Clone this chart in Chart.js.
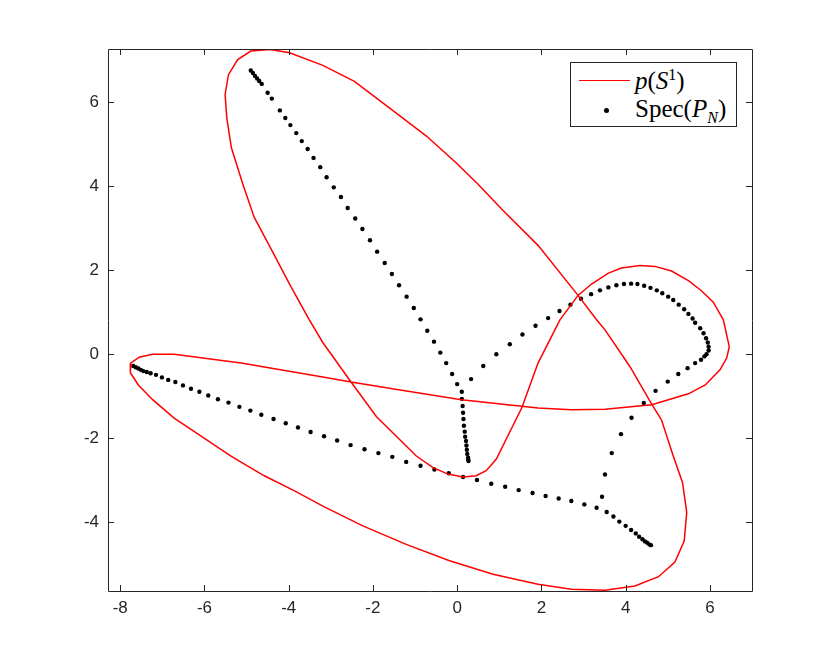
<!DOCTYPE html>
<html>
<head>
<meta charset="utf-8">
<script src="https://cdn.jsdelivr.net/npm/chart.js@4.4.0/dist/chart.umd.min.js"></script>
<style>
    body { margin: 0; background: #fff; }
    #wrap { position: relative; width: 830px; height: 664px; }
    #legend {
        position: absolute; left: 570px; top: 62px; width: 165px; height: 63px;
        border: 1px solid #262626; background: #fff;
        font-family: 'Liberation Serif', 'DejaVu Serif', serif; font-size: 25px; color: #000;
    }
    #legend .txt { position: absolute; left: 64px; white-space: nowrap; line-height: 1; }
    #legend sup, #legend sub { font-size: 16px; line-height: 0; }
    #legend sub { vertical-align: -6px; }
    #legend .line { position: absolute; left: 8px; top: 17px; width: 51px; height: 0; border-top: 1.5px solid #ff0000; }
    #legend .dot { position: absolute; left: 33px; top: 45px; width: 5px; height: 5px; border-radius: 50%; background: #000; }
</style>
</head>
<body>
<div id="wrap">
    <canvas id="specChart" width="830" height="664"></canvas>
    <div id="legend">
        <div class="line"></div>
        <div class="txt" style="top:5px"><i>p</i>(<i>S</i><sup>1</sup>)</div>
        <div class="dot"></div>
        <div class="txt" style="top:33px">Spec(<i>P</i><sub><i>N</i></sub>)</div>
    </div>
</div>
<script>
// symbol curve p(S^1)
const curveX = [-4.44,-4.90,-5.21,-5.43,-5.51,-5.47,-5.36,-5.09,-4.82,-4.40,-3.98,-3.51,-3.19,-2.52,-1.92,-0.97,-0.58,-0.22,0.14,0.45,0.69,0.93,1.54,1.92,2.44,2.87,3.19,3.59,3.90,4.34,4.70,5.09,5.49,5.80,6.08,6.32,6.46,6.40,6.24,5.89,5.49,4.62,3.51,2.71,1.92,0.10,-1.61,-2.52,-3.19,-5.13,-6.72,-7.23,-7.55,-7.75,-7.76,-7.57,-7.23,-6.72,-6.00,-5.37,-4.58,-3.86,-3.19,-2.24,-1.21,-0.18,0.85,1.92,2.71,3.51,4.22,4.78,5.17,5.39,5.45,5.35,5.13,4.85,4.58,4.10,3.51,3.31,2.87,1.92,1.09,0.49,-0.02,-0.73,-1.61,-2.44,-3.19,-3.98,-4.44];
const curveY = [7.25,7.21,7.01,6.65,6.18,5.62,4.91,4.05,3.26,2.47,1.67,0.82,0.28,-0.66,-1.48,-2.42,-2.69,-2.85,-2.92,-2.89,-2.77,-2.49,-1.26,-0.21,0.82,1.40,1.67,1.93,2.05,2.11,2.09,1.98,1.75,1.51,1.24,0.82,0.18,-0.09,-0.37,-0.73,-0.94,-1.20,-1.31,-1.32,-1.28,-1.08,-0.81,-0.66,-0.54,-0.21,0.00,0.00,-0.07,-0.21,-0.44,-0.73,-1.08,-1.52,-2.00,-2.42,-2.89,-3.25,-3.61,-4.08,-4.52,-4.91,-5.23,-5.47,-5.59,-5.61,-5.51,-5.29,-4.94,-4.44,-3.76,-3.05,-2.42,-1.56,-1.12,-0.29,0.58,0.82,1.40,2.59,3.42,4.05,4.55,5.19,5.86,6.49,6.87,7.17,7.25];

// eigenvalues, arm from top-left down to the short spike
const armAX = [-4.90,-4.85,-4.80,-4.75,-4.70,-4.64,-4.50,-4.40,-4.21,-4.08,-3.96,-3.82,-3.69,-3.55,-3.41,-3.25,-3.10,-2.93,-2.76,-2.60,-2.42,-2.25,-2.07,-1.90,-1.72,-1.55,-1.38,-1.20,-1.03,-0.87,-0.71,-0.55,-0.40,-0.26,-0.12,0.00,0.11,0.11,0.13,0.14,0.15,0.16,0.18,0.19,0.21,0.22,0.23,0.24,0.26,0.26,0.27];
const armAY = [6.75,6.69,6.62,6.56,6.50,6.43,6.22,6.08,5.80,5.62,5.45,5.26,5.07,4.88,4.67,4.45,4.21,3.97,3.74,3.48,3.23,2.98,2.71,2.44,2.17,1.91,1.64,1.37,1.10,0.83,0.56,0.30,0.04,-0.21,-0.47,-0.71,-0.89,-1.06,-1.23,-1.39,-1.54,-1.70,-1.84,-1.96,-2.06,-2.17,-2.27,-2.37,-2.46,-2.50,-2.54];
// arm round the right loop
const armBX = [0.33,0.62,0.93,1.25,1.55,1.86,2.16,2.43,2.69,2.94,3.18,3.39,3.59,3.78,3.96,4.13,4.28,4.44,4.59,4.74,4.87,5.01,5.13,5.26,5.39,5.49,5.59,5.65,5.77,5.85,5.91,5.95,5.97,5.97,5.92,5.87,5.79,5.65,5.47,5.25,5.00,4.71,4.43,4.14,3.89,3.67,3.51,3.44];
const armBY = [-0.59,-0.28,0.00,0.24,0.47,0.68,0.86,1.03,1.18,1.32,1.43,1.52,1.59,1.64,1.67,1.68,1.67,1.63,1.58,1.52,1.45,1.37,1.29,1.18,1.07,0.96,0.85,0.75,0.62,0.50,0.38,0.28,0.18,0.09,0.00,-0.05,-0.13,-0.21,-0.33,-0.47,-0.65,-0.87,-1.16,-1.51,-1.90,-2.35,-2.86,-3.39];
// arm from the left tip to the bottom-right tip
const armCX = [-7.69,-7.63,-7.57,-7.51,-7.45,-7.37,-7.28,-7.15,-7.01,-6.86,-6.69,-6.51,-6.32,-6.12,-5.91,-5.68,-5.43,-5.17,-4.91,-4.65,-4.36,-4.07,-3.78,-3.48,-3.16,-2.85,-2.53,-2.20,-1.87,-1.54,-1.21,-0.87,-0.54,-0.20,0.14,0.47,0.81,1.14,1.46,1.79,2.10,2.41,2.71,3.02,3.31,3.55,3.71,3.85,4.00,4.13,4.24,4.32,4.40,4.46,4.51,4.56,4.60];
const armCY = [-0.28,-0.31,-0.34,-0.37,-0.40,-0.42,-0.45,-0.49,-0.55,-0.61,-0.66,-0.74,-0.82,-0.89,-0.98,-1.07,-1.15,-1.25,-1.34,-1.44,-1.54,-1.64,-1.74,-1.85,-1.95,-2.05,-2.16,-2.26,-2.35,-2.44,-2.56,-2.65,-2.74,-2.83,-2.92,-2.99,-3.08,-3.15,-3.23,-3.30,-3.37,-3.43,-3.49,-3.57,-3.65,-3.75,-3.86,-3.98,-4.08,-4.18,-4.26,-4.34,-4.40,-4.45,-4.48,-4.52,-4.54];

const xTicks = [-8, -6, -4, -2, 0, 2, 4, 6];
const yTicks = [-4, -2, 0, 2, 4, 6];

const axisColor = '#262626';

function zip(xs, ys) {
    return xs.map((x, i) => ({ x: x, y: ys[i] }));
}

// box and inward ticks, matlab style
const boxPlugin = {
    id: 'box',
    afterDraw(chart) {
        const ctx = chart.ctx;
        const a = chart.chartArea;
        const xs = chart.scales.x, ys = chart.scales.y;
        const len = 6;
        ctx.save();
        ctx.strokeStyle = axisColor;
        ctx.lineWidth = 1;
        ctx.beginPath();
        ctx.rect(Math.round(a.left) + 0.5, Math.round(a.top) + 0.5,
                 Math.round(a.right - a.left), Math.round(a.bottom - a.top));
        xTicks.forEach(v => {
            const px = Math.round(xs.getPixelForValue(v)) + 0.5;
            ctx.moveTo(px, a.bottom); ctx.lineTo(px, a.bottom - len);
            ctx.moveTo(px, a.top); ctx.lineTo(px, a.top + len);
        });
        yTicks.forEach(v => {
            const py = Math.round(ys.getPixelForValue(v)) + 0.5;
            ctx.moveTo(a.left, py); ctx.lineTo(a.left + len, py);
            ctx.moveTo(a.right, py); ctx.lineTo(a.right - len, py);
        });
        ctx.stroke();
        ctx.restore();
    }
};

const tickFont = { family: "'Liberation Sans', Arial, sans-serif", size: 17 };

new Chart(document.getElementById('specChart').getContext('2d'), {
    type: 'scatter',
    data: {
        datasets: [
            {
                label: 'p(S1)',
                data: zip(curveX, curveY),
                showLine: true,
                borderColor: '#ff0000',
                borderWidth: 1.5,
                pointRadius: 0,
                fill: false
            },
            {
                label: 'Spec(PN)',
                data: zip(armAX, armAY).concat(zip(armBX, armBY), zip(armCX, armCY)),
                showLine: false,
                pointRadius: 2.2,
                pointBorderWidth: 0,
                backgroundColor: '#000',
                borderColor: '#000'
            }
        ]
    },
    options: {
        responsive: false,
        animation: false,
        layout: { padding: { left: 0, top: 49, right: 78, bottom: 0 } },
        plugins: { legend: { display: false }, tooltip: { enabled: false } },
        scales: {
            x: {
                type: 'linear',
                min: -8.29,
                max: 7.0,
                afterBuildTicks: s => { s.ticks = xTicks.map(v => ({ value: v })); },
                afterFit: s => { s.height = 73; },
                grid: { display: false, drawTicks: false },
                border: { display: false },
                ticks: { color: axisColor, font: tickFont, padding: 7, maxRotation: 0 }
            },
            y: {
                type: 'linear',
                min: -5.63,
                max: 7.26,
                afterBuildTicks: s => { s.ticks = yTicks.map(v => ({ value: v })); },
                afterFit: s => { s.width = 108; },
                grid: { display: false, drawTicks: false },
                border: { display: false },
                ticks: { color: axisColor, font: tickFont, padding: 9 }
            }
        }
    },
    plugins: [boxPlugin]
});
</script>
</body>
</html>
